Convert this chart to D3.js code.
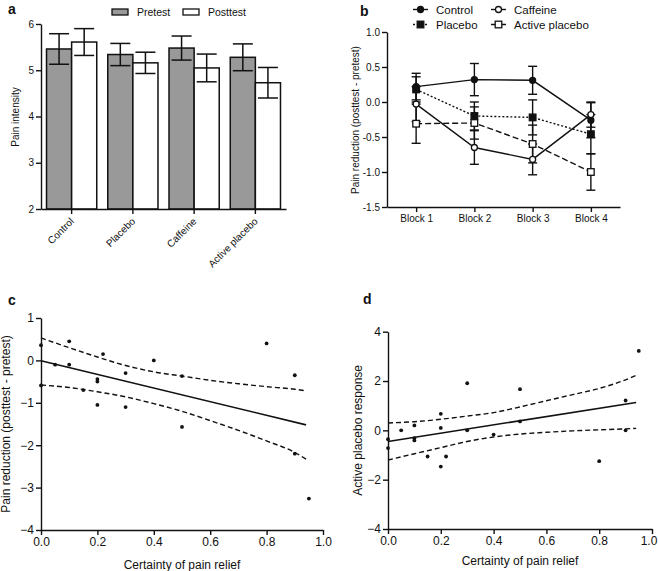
<!DOCTYPE html>
<html><head><meta charset="utf-8">
<script src="https://cdn.jsdelivr.net/npm/d3@7"></script>
<style>
body{margin:0;background:#fff;}
svg{display:block;font-family:"Liberation Sans",Arial,sans-serif;}
.axis path,.axis line{stroke:#111;stroke-width:1.4;}
.axis text{fill:#111;}
</style></head>
<body><svg id="c" width="658" height="571"></svg>
<script>
// ---------- Panel a data ----------
const catsA = ["Control","Placebo","Caffeine","Active placebo"];
const pretest = [5.46,5.34,5.48,5.28];
const pretestErr = [0.33,0.24,0.26,0.29];
const posttest = [5.61,5.16,5.05,4.73];
const posttestErr = [0.29,0.23,0.30,0.33];
const ticksA = [2,3,4,5,6];

// ---------- Panel b data ----------
const blocks = ["Block 1","Block 2","Block 3","Block 4"];
const control = [0.22,0.32,0.31,-0.26];
const controlErr = [0.19,0.23,0.20,0.25];
const caffeine = [-0.03,-0.65,-0.82,-0.18];
const caffeineErr = [0.25,0.24,0.22,0.18];
const placebo = [0.18,-0.20,-0.22,-0.46];
const placeboErr = [0.18,0.20,0.25,0.28];
const activePlacebo = [-0.31,-0.30,-0.60,-1.00];
const activePlaceboErr = [0.28,0.23,0.27,0.26];
const ticksB = [-1.5,-1.0,-0.5,0.0,0.5,1.0];

// ---------- Panel c data ----------
const certaintyC = [0,0,0.05,0.1,0.1,0.15,0.2,0.2,0.2,0.22,0.3,0.3,0.4,0.5,0.5,0.8,0.9,0.9,0.95];
const reductionC = [0.36,-0.59,-0.1,0.45,-0.1,-0.7,-0.44,-0.5,-1.05,0.15,-0.3,-1.1,0.0,-0.37,-1.57,0.4,-0.35,-2.2,-3.26];
const fitXC = [0,0.94];
const fitYC = [-0.01,-1.52];
const ciXC = [0,0.1,0.2,0.3,0.4,0.5,0.6,0.7,0.8,0.9,0.94];
const ciUpC = [0.53,0.3,0.08,-0.12,-0.27,-0.37,-0.47,-0.55,-0.62,-0.68,-0.72];
const ciLoC = [-0.58,-0.64,-0.74,-0.86,-1.02,-1.2,-1.42,-1.65,-1.9,-2.17,-2.33];
const ticksCx = [0,0.2,0.4,0.6,0.8,1.0];
const ticksCy = [-4,-3,-2,-1,0,1];

// ---------- Panel d data ----------
const certaintyD = [0,0,0.05,0.1,0.1,0.1,0.15,0.2,0.2,0.2,0.22,0.3,0.3,0.4,0.5,0.5,0.8,0.9,0.9,0.95];
const responseD = [-0.36,-0.72,0.0,0.2,-0.32,-0.41,-1.06,0.67,0.1,-1.47,-1.06,1.91,0.0,-0.17,1.67,0.36,-1.25,1.21,0.0,3.22];
const fitXD = [0,0.94];
const fitYD = [-0.45,1.13];
const ciXD = [0,0.1,0.2,0.3,0.4,0.5,0.6,0.7,0.8,0.9,0.94];
const ciUpD = [0.3,0.35,0.45,0.58,0.72,0.95,1.2,1.45,1.7,2.05,2.23];
const ciLoD = [-1.2,-0.95,-0.7,-0.45,-0.27,-0.15,-0.08,-0.02,0.02,0.06,0.08];
const ticksDx = [0,0.2,0.4,0.6,0.8,1.0];
const ticksDy = [-4,-2,0,2,4];

const svg = d3.select("#c");

function panelLabel(t,x,y){
  svg.append("text").attr("x",x).attr("y",y).attr("font-size",14).attr("font-weight","bold").attr("fill","#111").text(t);
}

// ================= Panel a =================
(function(){
  const g = svg.append("g");
  const y = d3.scaleLinear().domain([2,6]).range([209,24]);
  const x = d3.scaleBand().domain(catsA).range([41,286]).paddingInner(0.18).paddingOuter(0.09);
  const bw = x.bandwidth()/2;
  const sub = d3.scaleBand().domain(["pre","post"]).range([0,x.bandwidth()]);
  const series = [{k:"pre",v:pretest,e:pretestErr,fill:"#999"},{k:"post",v:posttest,e:posttestErr,fill:"#fff"}];
  series.forEach(s=>{
    catsA.forEach((c,i)=>{
      const x0 = x(c)+sub(s.k);
      g.append("rect").attr("x",x0).attr("y",y(s.v[i])).attr("width",bw).attr("height",y(2)-y(s.v[i]))
        .attr("fill",s.fill).attr("stroke","#111").attr("stroke-width",1.5);
      const cx = x0+bw/2, cap=10;
      g.append("line").attr("x1",cx).attr("x2",cx).attr("y1",y(s.v[i]-s.e[i])).attr("y2",y(s.v[i]+s.e[i])).attr("stroke","#111").attr("stroke-width",1.5);
      [s.v[i]-s.e[i], s.v[i]+s.e[i]].forEach(v=>{
        g.append("line").attr("x1",cx-cap).attr("x2",cx+cap).attr("y1",y(v)).attr("y2",y(v)).attr("stroke","#111").attr("stroke-width",1.5);
      });
    });
  });
  const ya = g.append("g").attr("class","axis").attr("transform","translate(41,0)")
    .call(d3.axisLeft(y).tickValues(ticksA).tickSize(5).tickSizeOuter(0).tickPadding(2).tickFormat(d3.format("d")));
  ya.selectAll("text").attr("font-size",10);
  const xa = g.append("g").attr("class","axis").attr("transform","translate(0,209)")
    .call(d3.axisBottom(x).tickSize(5).tickSizeOuter(0));
  xa.selectAll("text").attr("font-size",10).attr("text-anchor","end").attr("fill","#111")
    .attr("dy",null).attr("x",0).attr("y",0)
    .attr("transform","translate(3,13) rotate(-45)");
  g.append("text").attr("transform","translate(19,117) rotate(-90)").attr("text-anchor","middle").attr("font-size",10).attr("fill","#111").text("Pain intensity");
  // legend
  const leg = [{t:"Pretest",fill:"#999",x:112},{t:"Posttest",fill:"#fff",x:183}];
  leg.forEach(l=>{
    g.append("rect").attr("x",l.x).attr("y",9).attr("width",16).attr("height",6).attr("fill",l.fill).attr("stroke","#111").attr("stroke-width",1.3);
    g.append("text").attr("x",l.x+25).attr("y",15.5).attr("font-size",10.5).attr("fill","#111").text(l.t);
  });
  panelLabel("a",8,14);
})();

// ================= Panel b =================
(function(){
  const g = svg.append("g");
  const y = d3.scaleLinear().domain([-1.5,1]).range([207,32]);
  const x = d3.scalePoint().domain(blocks).range([387,620]).padding(0.5);
  const sets = [
    {name:"Control",v:control,e:controlErr,dash:null,sym:"circle",fill:"#111"},
    {name:"Caffeine",v:caffeine,e:caffeineErr,dash:null,sym:"circle",fill:"#fff"},
    {name:"Placebo",v:placebo,e:placeboErr,dash:"2,2",sym:"square",fill:"#111"},
    {name:"Active placebo",v:activePlacebo,e:activePlaceboErr,dash:"6,3",sym:"square",fill:"#fff"}
  ];
  sets.forEach(s=>{
    blocks.forEach((b,i)=>{
      const cx=x(b);
      g.append("line").attr("x1",cx).attr("x2",cx).attr("y1",y(s.v[i]-s.e[i])).attr("y2",y(s.v[i]+s.e[i])).attr("stroke","#111").attr("stroke-width",1.4);
      [s.v[i]-s.e[i], s.v[i]+s.e[i]].forEach(v=>{
        g.append("line").attr("x1",cx-4.5).attr("x2",cx+4.5).attr("y1",y(v)).attr("y2",y(v)).attr("stroke","#111").attr("stroke-width",1.4);
      });
    });
  });
  const line = d3.line().x((d,i)=>x(blocks[i])).y(d=>y(d));
  sets.forEach(s=>{
    g.append("path").attr("d",line(s.v)).attr("fill","none").attr("stroke","#111").attr("stroke-width",1.4).attr("stroke-dasharray",s.dash);
  });
  function sym(gg,s,cx,cy){
    if(s.sym==="circle") gg.append("circle").attr("cx",cx).attr("cy",cy).attr("r",3).attr("fill",s.fill).attr("stroke","#111").attr("stroke-width",1.3);
    else gg.append("rect").attr("x",cx-3.3).attr("y",cy-3.3).attr("width",6.6).attr("height",6.6).attr("fill",s.fill).attr("stroke","#111").attr("stroke-width",1.3);
  }
  sets.forEach(s=>blocks.forEach((b,i)=>sym(g,s,x(b),y(s.v[i]))));
  const ya = g.append("g").attr("class","axis").attr("transform","translate(387,0)")
    .call(d3.axisLeft(y).tickValues(ticksB).tickSize(5).tickSizeOuter(0).tickPadding(2).tickFormat(d=>d.toFixed(1)));
  ya.selectAll("text").attr("font-size",10);
  const xa = g.append("g").attr("class","axis").attr("transform","translate(0,207)")
    .call(d3.axisBottom(x).tickSize(5).tickSizeOuter(0).tickPadding(3));
  xa.selectAll("text").attr("font-size",10);
  g.append("text").attr("transform","translate(359,120) rotate(-90)").attr("text-anchor","middle").attr("font-size",10).attr("fill","#111").text("Pain reduction (posttest - pretest)");
  // legend
  const lp = [{s:sets[0],x:413,y:9.5},{s:sets[1],x:491,y:9.5},{s:sets[2],x:413,y:24.5},{s:sets[3],x:491,y:24.5}];
  lp.forEach(l=>{
    g.append("line").attr("x1",l.x).attr("x2",l.x+15).attr("y1",l.y).attr("y2",l.y).attr("stroke","#111").attr("stroke-width",1.4).attr("stroke-dasharray",l.s.dash);
    sym(g,l.s,l.x+7.5,l.y);
    g.append("text").attr("x",l.x+23).attr("y",l.y+4).attr("font-size",11.5).attr("fill","#111").text(l.s.name);
  });
  panelLabel("b",360,16);
})();

// ================= Scatter panels =================
function scatter(opt){
  const g = svg.append("g");
  const x = d3.scaleLinear().domain([0,1]).range([opt.x0,opt.x1]);
  const y = d3.scaleLinear().domain(opt.ydom).range([opt.yb,opt.yt]);
  const ya = g.append("g").attr("class","axis").attr("transform",`translate(${opt.x0},0)`)
    .call(d3.axisLeft(y).tickValues(opt.yt_).tickSize(5).tickSizeOuter(0).tickPadding(2).tickFormat(d3.format("d")));
  ya.selectAll("text").attr("font-size",12);
  const xa = g.append("g").attr("class","axis").attr("transform",`translate(0,${opt.yb})`)
    .call(d3.axisBottom(x).tickValues(opt.xt_).tickSize(5).tickSizeOuter(0).tickPadding(2).tickFormat(d=>d.toFixed(1)));
  xa.selectAll("text").attr("font-size",12).attr("x",d=>d===1?opt.lastShift:0);
  const ln = d3.line().x(d=>x(d[0])).y(d=>y(d[1]));
  const lc = d3.line().x(d=>x(d[0])).y(d=>y(d[1])).curve(d3.curveMonotoneX);
  g.append("path").attr("d",lc(opt.ciX.map((v,i)=>[v,opt.ciUp[i]]))).attr("fill","none").attr("stroke","#111").attr("stroke-width",1.4).attr("stroke-dasharray","5,3");
  g.append("path").attr("d",lc(opt.ciX.map((v,i)=>[v,opt.ciLo[i]]))).attr("fill","none").attr("stroke","#111").attr("stroke-width",1.4).attr("stroke-dasharray","5,3");
  g.append("path").attr("d",ln(opt.fitX.map((v,i)=>[v,opt.fitY[i]]))).attr("fill","none").attr("stroke","#111").attr("stroke-width",1.6);
  opt.xs.forEach((v,i)=>{
    g.append("circle").attr("cx",x(v)).attr("cy",y(opt.ys[i])).attr("r",1.9).attr("fill","#111");
  });
  g.append("text").attr("x",(opt.x0+opt.x1)/2).attr("y",opt.xtitleY).attr("text-anchor","middle").attr("font-size",12).attr("fill","#111").text("Certainty of pain relief");
  g.append("text").attr("transform",`translate(${opt.ytitleX},${(opt.yb+opt.yt)/2}) rotate(-90)`).attr("text-anchor","middle").attr("font-size",12).attr("fill","#111").text(opt.ytitle);
}
scatter({x0:41,x1:323,yb:530,yt:318,ydom:[-4,1],yt_:ticksCy,xt_:ticksCx,xs:certaintyC,ys:reductionC,lastShift:0,
  fitX:fitXC,fitY:fitYC,ciX:ciXC,ciUp:ciUpC,ciLo:ciLoC,xtitleY:569,ytitleX:10,ytitle:"Pain reduction (posttest - pretest)"});
panelLabel("c",8,305);
scatter({x0:388,x1:652,yb:529,yt:331.7,ydom:[-4,4],yt_:ticksDy,xt_:ticksDx,xs:certaintyD,ys:responseD,lastShift:-3.5,
  fitX:fitXD,fitY:fitYD,ciX:ciXD,ciUp:ciUpD,ciLo:ciLoD,xtitleY:565,ytitleX:362,ytitle:"Active placebo response"});
panelLabel("d",363,304);
</script></body></html>
